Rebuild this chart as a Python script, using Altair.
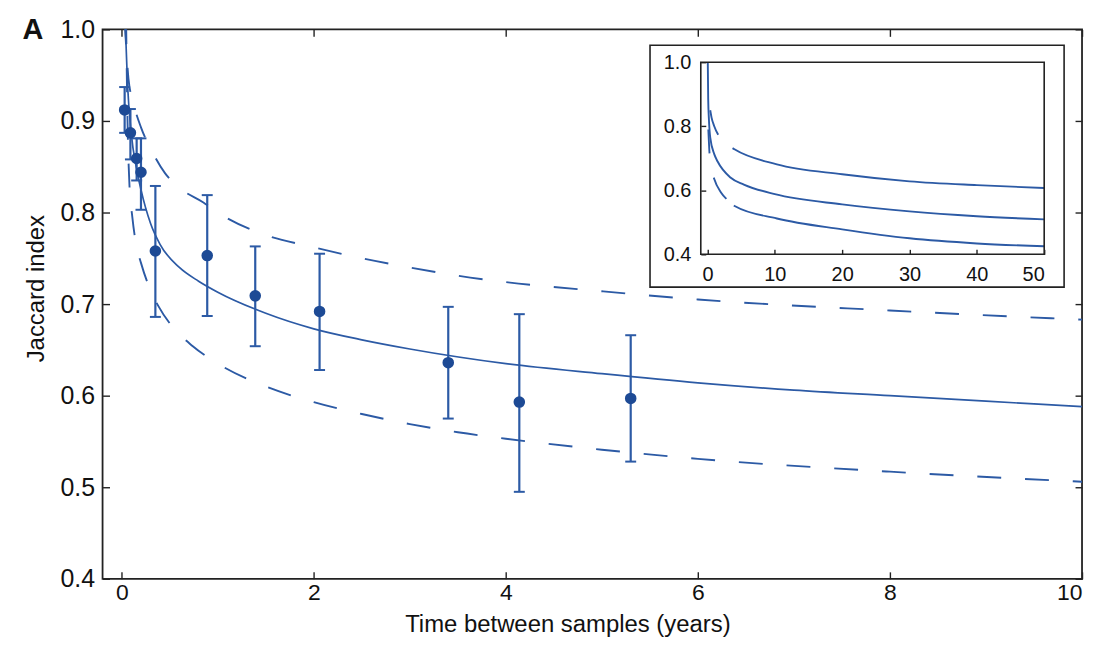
import altair as alt
import pandas as pd

# ---------------- data ----------------
# observed Jaccard index (points with error bars)
t_obs = [0.03, 0.09, 0.155, 0.20, 0.35, 0.89, 1.39, 2.06, 3.40, 4.14, 5.30]
j_obs = [0.912, 0.887, 0.859, 0.844, 0.758, 0.753, 0.709, 0.692, 0.636, 0.593, 0.597]
j_lo = [0.887, 0.858, 0.835, 0.803, 0.686, 0.687, 0.654, 0.628, 0.575, 0.495, 0.528]
j_hi = [0.937, 0.913, 0.881, 0.881, 0.829, 0.819, 0.763, 0.755, 0.697, 0.689, 0.666]

# fitted curve (solid) in main panel
fit_t = [0.035, 0.06, 0.1, 0.15, 0.2, 0.3, 0.4, 0.6, 0.8, 1.0, 1.5, 2.0, 2.5, 3.0,
         4.0, 5.0, 6.0, 7.0, 8.0, 9.0, 10.0]
fit_j = [1.01, 0.94, 0.885, 0.85, 0.825, 0.788, 0.765, 0.74, 0.725, 0.713, 0.69, 0.673,
         0.661, 0.651, 0.635, 0.624, 0.614, 0.606, 0.600, 0.594, 0.588]

# upper bound (dashed)
up_t = [0.03, 0.07, 0.12, 0.2, 0.3, 0.45, 0.6, 0.85, 1.0, 1.4, 2.0, 2.5, 3.0, 3.5,
        4.0, 5.0, 6.0, 8.0, 10.0]
up_j = [1.01, 0.946, 0.92, 0.893, 0.87, 0.843, 0.827, 0.811, 0.80, 0.779, 0.762, 0.75,
        0.74, 0.731, 0.724, 0.714, 0.705, 0.693, 0.683]

# lower bound (dashed)
lo_t = [0.045, 0.06, 0.08, 0.11, 0.15, 0.2, 0.3, 0.38, 0.53, 0.74, 1.0, 1.5, 2.0, 2.5,
        3.0, 3.5, 4.0, 5.0, 6.0, 8.0, 10.0]
lo_j = [1.01, 0.9, 0.83, 0.795, 0.765, 0.745, 0.715, 0.698, 0.675, 0.654, 0.635, 0.61,
        0.593, 0.58, 0.569, 0.56, 0.553, 0.541, 0.531, 0.517, 0.506]

# inset (0-50 years)
in_mid_t = [0.04, 0.1, 0.2, 0.4, 1.0, 1.5, 3.4, 5.4, 10, 20, 30, 40, 50]
in_mid_j = [1.0, 0.885, 0.825, 0.765, 0.713, 0.69, 0.64, 0.618, 0.588, 0.556, 0.534, 0.519, 0.509]
in_up_t = [0.4, 0.6, 1.0, 1.8, 2.5, 4.0, 10.3, 20, 30, 40, 50]
in_up_j = [0.85, 0.827, 0.80, 0.766, 0.75, 0.728, 0.681, 0.65, 0.628, 0.616, 0.607]
in_lo_t = [0.12, 0.3, 0.5, 1.0, 2.0, 3.0, 4.1, 10.3, 20, 30, 40, 50]
in_lo_j = [0.79, 0.715, 0.676, 0.635, 0.593, 0.569, 0.55, 0.512, 0.478, 0.45, 0.434, 0.425]

x_ticks = [0, 2, 4, 6, 8, 10]
y_ticks = [0.4, 0.5, 0.6, 0.7, 0.8, 0.9, 1.0]
in_x_ticks = [0, 10, 20, 30, 40, 50]
in_y_ticks = [0.4, 0.6, 0.8, 1.0]

# ---------------- styling ----------------
BLUE = "#2c5aa5"
DARK = "#1d4a95"
FONT = "Liberation Sans"
W, H = 984, 552

obs = pd.DataFrame({"t": t_obs, "j": j_obs, "lo": j_lo, "hi": j_hi})


def curve(tv, jv):
    return pd.DataFrame({"t": tv, "j": jv})


xs = alt.Scale(domain=[-0.2, 10], nice=False, zero=False)
ys = alt.Scale(domain=[0.4, 1.0], nice=False, zero=False)
ixs = alt.Scale(domain=[-1, 50], nice=False, zero=False, range=[601, 946])
iys = alt.Scale(domain=[0.4, 1.0], nice=False, zero=False, range=[226, 33])

ax_bottom = alt.Axis(orient="bottom", values=x_ticks, format="d", title="Time between samples (years)",
                     domain=False, grid=False, tickSize=7, offset=-7, labelPadding=3,
                     labelFontSize=23, titleFontSize=24, titleBaseline="alphabetic",
                     titleX=467, titleY=60)
ax_left = alt.Axis(orient="left", values=y_ticks, format=".1f", title="Jaccard index",
                   domain=False, grid=False, tickSize=7, offset=-7, labelPadding=8,
                   labelFontSize=25, titleFontSize=24, titlePadding=12, titleY=260)
ax_top = alt.Axis(orient="top", values=x_ticks, labels=False, title="", domain=False,
                  grid=False, tickSize=7, offset=-7)
ax_right = alt.Axis(orient="right", values=y_ticks, labels=False, title="", domain=False,
                    grid=False, tickSize=7, offset=-7)
ax_in_bottom = alt.Axis(orient="bottom", values=in_x_ticks, format="d", title="", domain=False,
                        grid=False, tickSize=5, offset=-331, labelPadding=10, labelFontSize=20,
                        zindex=2)
ax_in_left = alt.Axis(orient="left", values=in_y_ticks, format=".1f", title="", domain=False,
                      grid=False, tickSize=5, offset=-606, labelPadding=10, labelFontSize=20,
                      zindex=2)

NOAX = dict(axis=None)

# frame of inset (white box)
frame_df = pd.DataFrame({"k": [0]})
outer = alt.Chart(frame_df).mark_rect(fill="white", stroke="#222222", strokeWidth=1.6).encode(
    x=alt.value(550), x2=alt.value(966), y=alt.value(16), y2=alt.value(259))
inner = alt.Chart(frame_df).mark_rect(fillOpacity=0, stroke="#222222", strokeWidth=1.6).encode(
    x=alt.value(601), x2=alt.value(946), y=alt.value(33), y2=alt.value(226))

# main panel
fit = alt.Chart(curve(fit_t, fit_j)).mark_line(color=BLUE, strokeWidth=1.7, clip=True,
                                               interpolate="monotone").encode(
    x=alt.X("t:Q", scale=xs, axis=ax_bottom), y=alt.Y("j:Q", scale=ys, axis=ax_left))
upper = alt.Chart(curve(up_t, up_j)).mark_line(color=BLUE, strokeWidth=1.9, clip=True,
                                               strokeDash=[24, 24], interpolate="monotone").encode(
    x=alt.X("t:Q", scale=xs, **NOAX), y=alt.Y("j:Q", scale=ys, **NOAX))
lower = alt.Chart(curve(lo_t, lo_j)).mark_line(color=BLUE, strokeWidth=1.9, clip=True,
                                               strokeDash=[24, 24], interpolate="monotone").encode(
    x=alt.X("t:Q", scale=xs, **NOAX), y=alt.Y("j:Q", scale=ys, **NOAX))
bars = alt.Chart(obs).mark_rule(color=BLUE, strokeWidth=2.2).encode(
    x=alt.X("t:Q", scale=xs, **NOAX), y=alt.Y("lo:Q", scale=ys, **NOAX), y2="hi:Q")
cap_lo = alt.Chart(obs).mark_tick(orient="horizontal", color=BLUE, thickness=2, size=11,
                                  opacity=1).encode(
    x=alt.X("t:Q", scale=xs, **NOAX), y=alt.Y("lo:Q", scale=ys, **NOAX))
cap_hi = alt.Chart(obs).mark_tick(orient="horizontal", color=BLUE, thickness=2, size=11,
                                  opacity=1).encode(
    x=alt.X("t:Q", scale=xs, **NOAX), y=alt.Y("hi:Q", scale=ys, **NOAX))
pts = alt.Chart(obs).mark_circle(color=DARK, size=135, opacity=1).encode(
    x=alt.X("t:Q", scale=xs, axis=ax_top), y=alt.Y("j:Q", scale=ys, axis=ax_right))

# inset
in_mid = alt.Chart(curve(in_mid_t, in_mid_j)).mark_line(color=BLUE, strokeWidth=1.9,
                                                        interpolate="monotone").encode(
    x=alt.X("t:Q", scale=ixs, axis=ax_in_bottom), y=alt.Y("j:Q", scale=iys, axis=ax_in_left))
in_up = alt.Chart(curve(in_up_t, in_up_j)).mark_line(color=BLUE, strokeWidth=1.9,
                                                     strokeDash=[26, 20, 3000],
                                                     interpolate="monotone").encode(
    x=alt.X("t:Q", scale=ixs, **NOAX), y=alt.Y("j:Q", scale=iys, **NOAX))
in_lo = alt.Chart(curve(in_lo_t, in_lo_j)).mark_line(color=BLUE, strokeWidth=1.9,
                                                     strokeDash=[24, 25, 25, 10, 3000],
                                                     interpolate="monotone").encode(
    x=alt.X("t:Q", scale=ixs, **NOAX), y=alt.Y("j:Q", scale=iys, **NOAX))

panel_label = alt.Chart(frame_df).mark_text(text="A", font=FONT, fontSize=29, fontWeight="bold",
                                            align="center", baseline="alphabetic",
                                            color="#111111").encode(
    x=alt.value(-70), y=alt.value(10))

chart = alt.layer(
    outer, fit, upper, lower, bars, cap_lo, cap_hi, pts, in_mid, in_up, in_lo, inner, panel_label
).resolve_scale(x="independent", y="independent").properties(
    width=W, height=H,
    autosize=alt.AutoSizeParams(type="none"),
    padding={"left": 95, "top": 20, "right": 4, "bottom": 60},
).configure_axis(
    labelFont=FONT, titleFont=FONT, labelColor="#111111", titleColor="#111111",
    tickColor="#222222", tickWidth=1.4, titleFontWeight="normal", grid=False
).configure_view(stroke="#222222", strokeWidth=1.8)

chart.save("out.html", embed_options={"renderer": "svg", "actions": False})
